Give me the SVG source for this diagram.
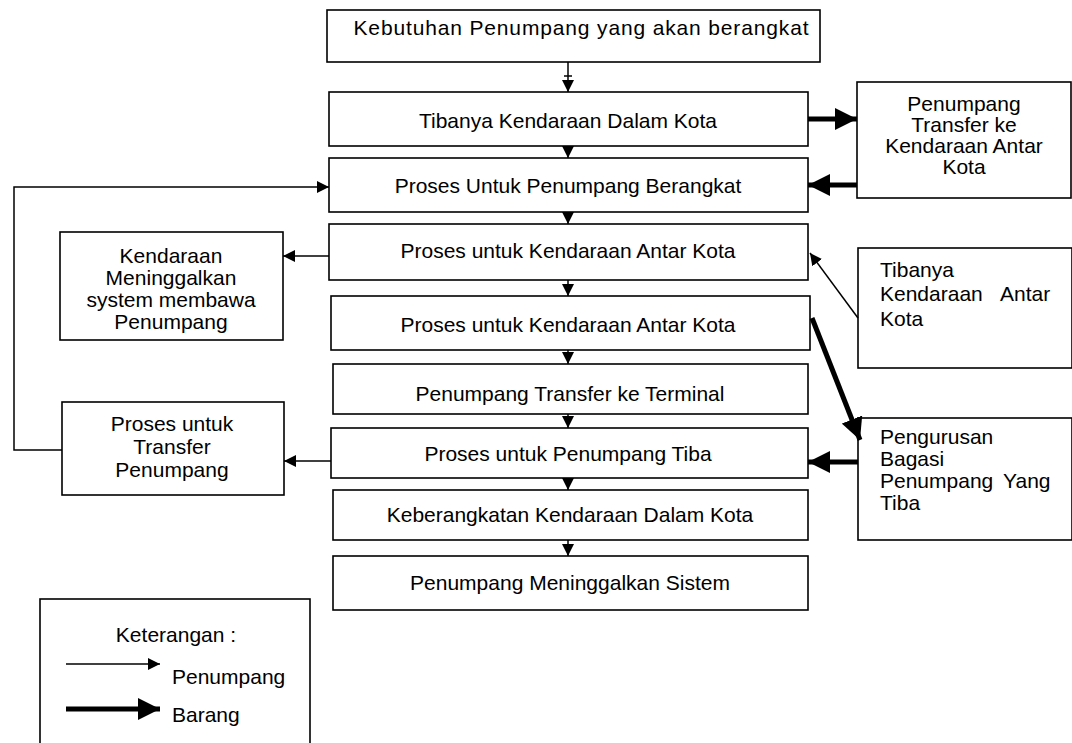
<svg xmlns="http://www.w3.org/2000/svg" width="1072" height="743" viewBox="0 0 1072 743">
  <style>
    .box { fill: #fff; stroke: #000; stroke-width: 1.6; }
    .t { font-family: "Liberation Sans", Arial, sans-serif; font-size: 21px; fill: #000; }
    .c { text-anchor: middle; }
    .thin { fill: none; stroke: #000; stroke-width: 1.5; }
    .thick { fill: none; stroke: #000; stroke-width: 5; }
  </style>
  <defs>
    <marker id="headThin" viewBox="0 0 12 12" refX="12" refY="6" markerWidth="12" markerHeight="12" markerUnits="userSpaceOnUse" orient="auto">
      <path d="M0,0 L12,6 L0,12 z" fill="#000"/>
    </marker>
    <marker id="headThick" viewBox="0 0 22 22" refX="22" refY="11" markerWidth="22" markerHeight="22" markerUnits="userSpaceOnUse" orient="auto">
      <path d="M0,0 L22,11 L0,22 z" fill="#000"/>
    </marker>
  </defs>

  <rect width="1072" height="743" fill="#fff"/>

  <!-- main column -->
  <g id="kebutuhan">
    <rect class="box" x="327" y="10" width="493" height="52"/>
    <text class="t c" x="581" y="35" textLength="455" lengthAdjust="spacing">Kebutuhan Penumpang yang akan berangkat</text>
  </g>
  <g id="tibanya-dalam-kota">
    <rect class="box" x="329" y="92" width="479" height="54"/>
    <text class="t c" x="568" y="128">Tibanya Kendaraan Dalam Kota</text>
  </g>
  <g id="proses-berangkat">
    <rect class="box" x="329" y="158" width="479" height="54"/>
    <text class="t c" x="568" y="193">Proses Untuk Penumpang Berangkat</text>
  </g>
  <g id="proses-antar-kota-1">
    <rect class="box" x="329" y="224" width="479" height="56"/>
    <text class="t c" x="568" y="258">Proses untuk Kendaraan Antar Kota</text>
  </g>
  <g id="proses-antar-kota-2">
    <rect class="box" x="331" y="296" width="479" height="54"/>
    <text class="t c" x="568" y="332">Proses untuk Kendaraan Antar Kota</text>
  </g>
  <g id="transfer-terminal">
    <rect class="box" x="333" y="364" width="475" height="50"/>
    <text class="t c" x="570" y="401">Penumpang Transfer ke Terminal</text>
  </g>
  <g id="penumpang-tiba">
    <rect class="box" x="331" y="428" width="477" height="50"/>
    <text class="t c" x="568" y="461">Proses untuk Penumpang Tiba</text>
  </g>
  <g id="keberangkatan-dalam-kota">
    <rect class="box" x="333" y="490" width="475" height="50"/>
    <text class="t c" x="570" y="522">Keberangkatan Kendaraan Dalam Kota</text>
  </g>
  <g id="meninggalkan-sistem">
    <rect class="box" x="333" y="556" width="475" height="54"/>
    <text class="t c" x="570" y="590">Penumpang Meninggalkan Sistem</text>
  </g>

  <!-- right column -->
  <g id="transfer-antar-kota">
    <rect class="box" x="857" y="82" width="214" height="116"/>
    <text class="t c" x="964" y="111">Penumpang</text>
    <text class="t c" x="964" y="132">Transfer ke</text>
    <text class="t c" x="964" y="153">Kendaraan Antar</text>
    <text class="t c" x="964" y="174">Kota</text>
  </g>
  <g id="tibanya-antar-kota">
    <rect class="box" x="858" y="248" width="214" height="120"/>
    <text class="t" x="880" y="277">Tibanya</text>
    <text class="t" x="880" y="301">Kendaraan<tspan x="1000">Antar</tspan></text>
    <text class="t" x="880" y="326">Kota</text>
  </g>
  <g id="bagasi">
    <rect class="box" x="858" y="418" width="214" height="122"/>
    <text class="t" x="880" y="444">Pengurusan</text>
    <text class="t" x="880" y="466">Bagasi</text>
    <text class="t" x="880" y="488">Penumpang<tspan x="1003">Yang</tspan></text>
    <text class="t" x="880" y="510">Tiba</text>
  </g>

  <!-- left column -->
  <g id="kendaraan-meninggalkan">
    <rect class="box" x="60" y="232" width="223" height="108"/>
    <text class="t c" x="171" y="263">Kendaraan</text>
    <text class="t c" x="171" y="285">Meninggalkan</text>
    <text class="t c" x="171" y="307">system membawa</text>
    <text class="t c" x="171" y="329">Penumpang</text>
  </g>
  <g id="transfer-penumpang">
    <rect class="box" x="62" y="402" width="222" height="93"/>
    <text class="t c" x="172" y="431">Proses untuk</text>
    <text class="t c" x="172" y="454">Transfer</text>
    <text class="t c" x="172" y="477">Penumpang</text>
  </g>

  <!-- legend -->
  <g id="keterangan">
    <rect class="box" x="40" y="599" width="270" height="150"/>
    <text class="t c" x="176" y="642">Keterangan :</text>
    <line class="thin" x1="66" y1="664" x2="160" y2="664" marker-end="url(#headThin)"/>
    <text class="t" x="172" y="684">Penumpang</text>
    <line class="thick" x1="66" y1="709" x2="160" y2="709" marker-end="url(#headThick)"/>
    <text class="t" x="172" y="722">Barang</text>
  </g>

  <!-- connectors -->
  <g id="connectors">
    <line class="thin" x1="568" y1="62" x2="568" y2="92" marker-end="url(#headThin)"/>
    <line class="thin" x1="564" y1="76" x2="572" y2="76"/>
    <line class="thin" x1="568" y1="146" x2="568" y2="158" marker-end="url(#headThin)"/>
    <line class="thin" x1="568" y1="212" x2="568" y2="224" marker-end="url(#headThin)"/>
    <line class="thin" x1="568" y1="280" x2="568" y2="296" marker-end="url(#headThin)"/>
    <line class="thin" x1="568" y1="350" x2="568" y2="364" marker-end="url(#headThin)"/>
    <line class="thin" x1="568" y1="414" x2="568" y2="428" marker-end="url(#headThin)"/>
    <line class="thin" x1="568" y1="478" x2="568" y2="490" marker-end="url(#headThin)"/>
    <line class="thin" x1="568" y1="540" x2="568" y2="556" marker-end="url(#headThin)"/>

    <line class="thick" x1="808" y1="119" x2="857" y2="119" marker-end="url(#headThick)"/>
    <line class="thick" x1="857" y1="185" x2="808" y2="185" marker-end="url(#headThick)"/>
    <line class="thin" x1="329" y1="256" x2="283" y2="256" marker-end="url(#headThin)"/>
    <line class="thin" x1="858" y1="318" x2="810" y2="253" marker-end="url(#headThin)"/>
    <line class="thick" x1="812" y1="318" x2="860" y2="440" marker-end="url(#headThick)"/>
    <line class="thick" x1="858" y1="462" x2="808" y2="462" marker-end="url(#headThick)"/>
    <line class="thin" x1="331" y1="461" x2="284" y2="461" marker-end="url(#headThin)"/>
    <polyline class="thin" points="62,450 14,450 14,187 329,187" marker-end="url(#headThin)"/>
  </g>
</svg>
